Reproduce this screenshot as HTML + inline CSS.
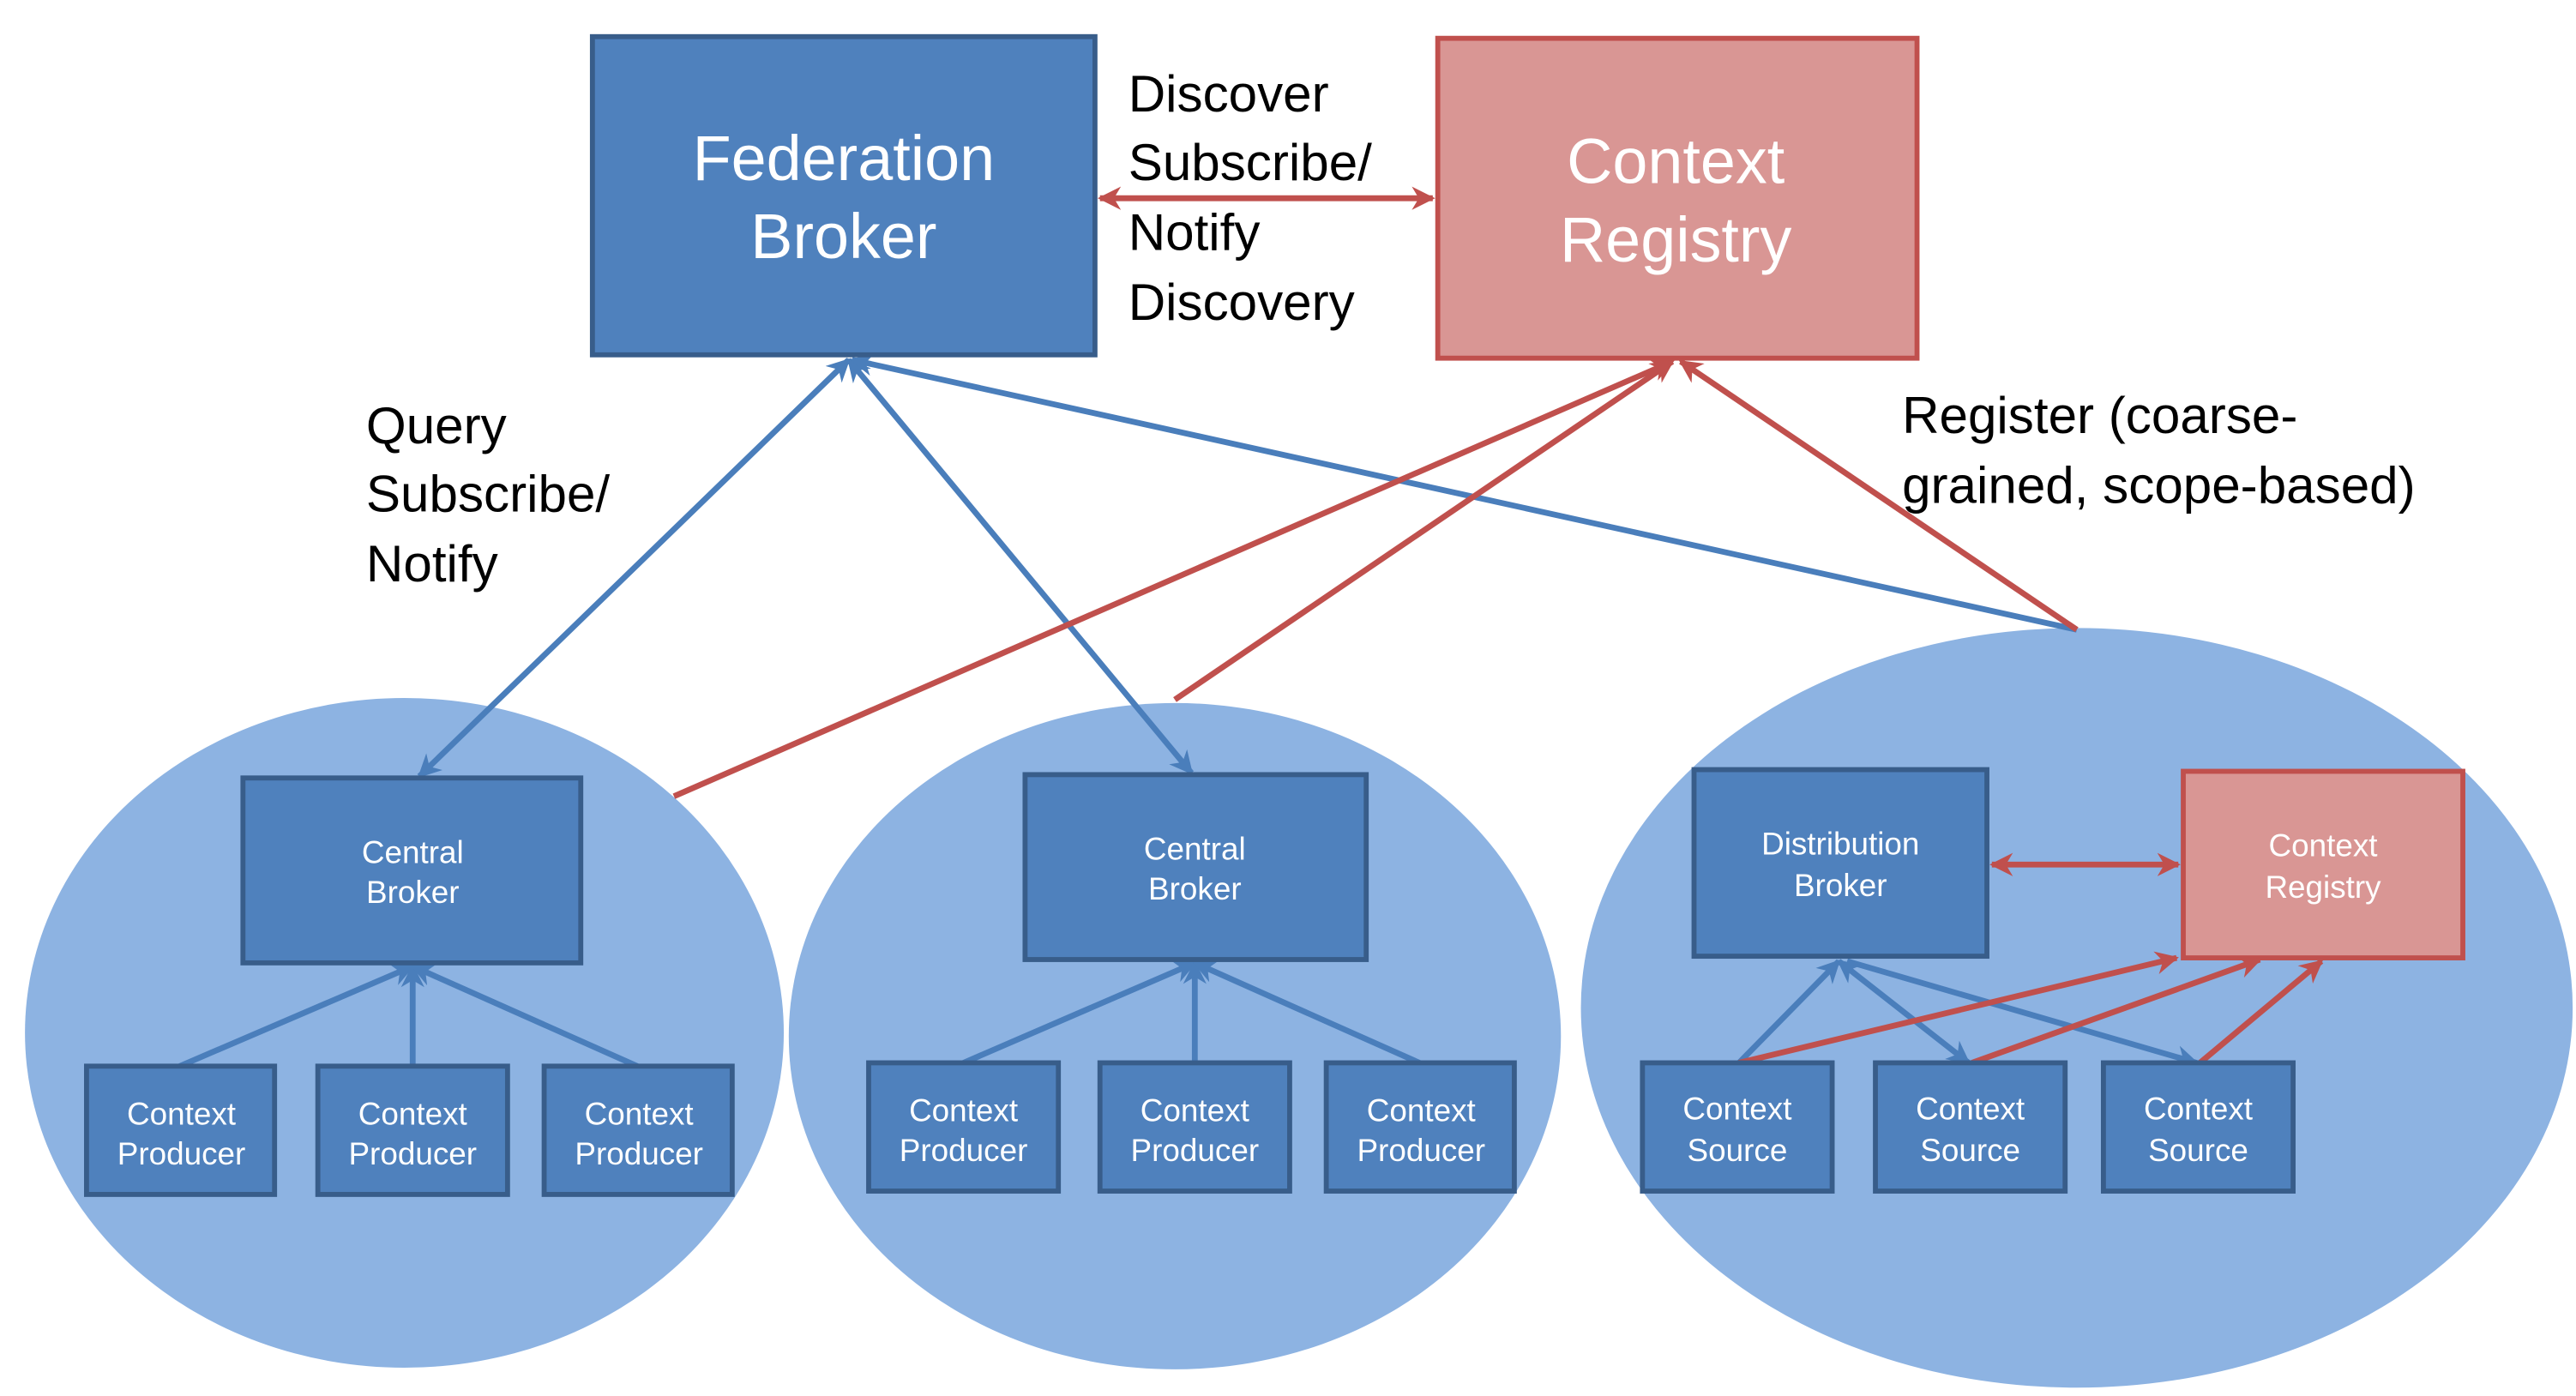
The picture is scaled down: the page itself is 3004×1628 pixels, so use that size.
<!DOCTYPE html>
<html><head><meta charset="utf-8"><style>
html,body{margin:0;padding:0;background:#fff;width:3004px;height:1628px;overflow:hidden}
svg{display:block}
text{font-family:"Liberation Sans",Arial,sans-serif}
.w{fill:#fff}
.b{fill:#000}
</style></head><body>
<svg width="3004" height="1628" viewBox="0 0 1548 838" preserveAspectRatio="none" xmlns="http://www.w3.org/2000/svg">
<defs>
<marker id="ab" viewBox="0 0 10 10" refX="9" refY="5" markerWidth="4" markerHeight="4" orient="auto-start-reverse"><path d="M0,0 L10,5 L0,10 L3,5z" fill="#4a7ebb"/></marker>
<marker id="ar" viewBox="0 0 10 10" refX="9" refY="5" markerWidth="4" markerHeight="4" orient="auto-start-reverse"><path d="M0,0 L10,5 L0,10 L3,5z" fill="#c0504d"/></marker>
</defs>
<rect width="1548" height="838" fill="#fff"/>
<ellipse cx="243" cy="620" rx="228" ry="201" fill="#8db3e2"/>
<ellipse cx="706" cy="622" rx="232" ry="200" fill="#8db3e2"/>
<ellipse cx="1248" cy="605" rx="298" ry="228" fill="#8db3e2"/>

<g stroke-width="3.5" fill="none">
<line x1="510" y1="216" x2="252" y2="466" stroke="#4a7ebb" marker-start="url(#ab)" marker-end="url(#ab)"/>
<line x1="510" y1="216" x2="716" y2="464" stroke="#4a7ebb" marker-start="url(#ab)" marker-end="url(#ab)"/>
<line x1="512" y1="216" x2="1248" y2="378" stroke="#4a7ebb" marker-start="url(#ab)"/>
<line x1="405" y1="478" x2="1005" y2="217" stroke="#c0504d" marker-end="url(#ar)"/>
<line x1="706" y1="420" x2="1005" y2="217" stroke="#c0504d" marker-end="url(#ar)"/>
<line x1="1248" y1="378" x2="1010" y2="217" stroke="#c0504d" marker-end="url(#ar)"/>
<line x1="661" y1="119" x2="861" y2="119" stroke="#c0504d" marker-start="url(#ar)" marker-end="url(#ar)"/>

<line x1="108" y1="640" x2="248" y2="580" stroke="#4a7ebb" marker-end="url(#ab)"/>
<line x1="248" y1="640" x2="248" y2="580" stroke="#4a7ebb" marker-end="url(#ab)"/>
<line x1="383" y1="640" x2="248" y2="580" stroke="#4a7ebb" marker-end="url(#ab)"/>
<line x1="579" y1="638" x2="718" y2="578" stroke="#4a7ebb" marker-end="url(#ab)"/>
<line x1="718" y1="638" x2="718" y2="578" stroke="#4a7ebb" marker-end="url(#ab)"/>
<line x1="853" y1="638" x2="718" y2="578" stroke="#4a7ebb" marker-end="url(#ab)"/>

<line x1="1045" y1="638" x2="1105" y2="577" stroke="#4a7ebb" marker-end="url(#ab)"/>
<line x1="1105" y1="577" x2="1183" y2="638" stroke="#4a7ebb" marker-start="url(#ab)" marker-end="url(#ab)"/>
<line x1="1110" y1="577" x2="1320" y2="638" stroke="#4a7ebb" marker-end="url(#ab)"/>
<line x1="1045" y1="638" x2="1308" y2="575" stroke="#c0504d" marker-end="url(#ar)"/>
<line x1="1185" y1="638" x2="1358" y2="576" stroke="#c0504d" marker-end="url(#ar)"/>
<line x1="1322" y1="638" x2="1395" y2="577" stroke="#c0504d" marker-end="url(#ar)"/>
<line x1="1197" y1="519" x2="1309" y2="519" stroke="#c0504d" marker-start="url(#ar)" marker-end="url(#ar)"/>
</g>

<rect x="356" y="22" width="302" height="191" fill="#4f81bd" stroke="#385d8a" stroke-width="3"/>
<rect x="864" y="23" width="288" height="192" fill="#d99694" stroke="#c0504d" stroke-width="3"/>
<text class="w" x="507" y="108" font-size="38" text-anchor="middle">Federation</text>
<text class="w" x="507" y="155" font-size="38" text-anchor="middle">Broker</text>
<text class="w" x="1007" y="110" font-size="38" text-anchor="middle">Context</text>
<text class="w" x="1007" y="157" font-size="38" text-anchor="middle">Registry</text>

<g font-size="31" class="b">
<text x="678" y="67">Discover</text>
<text x="678" y="108">Subscribe/</text>
<text x="678" y="150">Notify</text>
<text x="678" y="192">Discovery</text>
<text x="220" y="266">Query</text>
<text x="220" y="307">Subscribe/</text>
<text x="220" y="349">Notify</text>
<text x="1143" y="260">Register  (coarse-</text>
<text x="1143" y="302">grained,  scope-based)</text>
</g>

<g fill="#4f81bd" stroke="#385d8a" stroke-width="3">
<rect x="146" y="467" width="203" height="111"/>
<rect x="616" y="465" width="205" height="111"/>
<rect x="1018" y="462" width="176" height="112"/>
<rect x="52" y="640" width="113" height="77"/>
<rect x="191" y="640" width="114" height="77"/>
<rect x="327" y="640" width="113" height="77"/>
<rect x="522" y="638" width="114" height="77"/>
<rect x="661" y="638" width="114" height="77"/>
<rect x="797" y="638" width="113" height="77"/>
<rect x="987" y="638" width="114" height="77"/>
<rect x="1127" y="638" width="114" height="77"/>
<rect x="1264" y="638" width="114" height="77"/>
</g>
<rect x="1312" y="463" width="168" height="112" fill="#d99694" stroke="#c0504d" stroke-width="3"/>

<g class="w" font-size="19" text-anchor="middle">
<text x="248" y="518">Central</text><text x="248" y="542">Broker</text>
<text x="718" y="516">Central</text><text x="718" y="540">Broker</text>
<text x="1106" y="513">Distribution</text><text x="1106" y="538">Broker</text>
<text x="1396" y="514">Context</text><text x="1396" y="539">Registry</text>
<text x="109" y="675">Context</text><text x="109" y="699">Producer</text>
<text x="248" y="675">Context</text><text x="248" y="699">Producer</text>
<text x="384" y="675">Context</text><text x="384" y="699">Producer</text>
<text x="579" y="673">Context</text><text x="579" y="697">Producer</text>
<text x="718" y="673">Context</text><text x="718" y="697">Producer</text>
<text x="854" y="673">Context</text><text x="854" y="697">Producer</text>
<text x="1044" y="672">Context</text><text x="1044" y="697">Source</text>
<text x="1184" y="672">Context</text><text x="1184" y="697">Source</text>
<text x="1321" y="672">Context</text><text x="1321" y="697">Source</text>
</g>
</svg>
</body></html>
